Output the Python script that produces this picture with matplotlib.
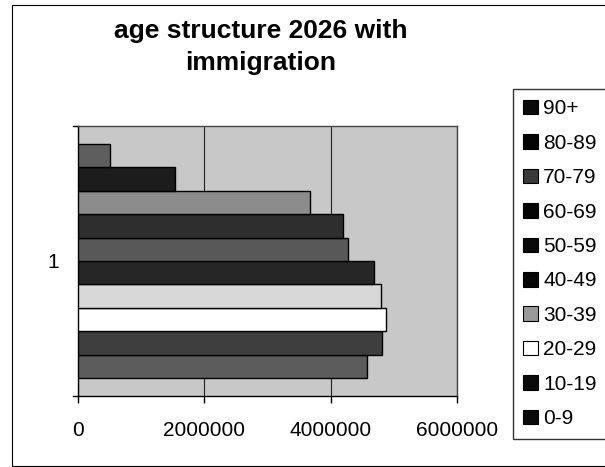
import matplotlib
matplotlib.use("Agg")
import matplotlib.pyplot as plt
from matplotlib.patches import Patch, Rectangle
import numpy as np

plt.rcParams['font.family'] = ['Liberation Sans', 'DejaVu Sans']

age_groups = ["0-9", "10-19", "20-29", "30-39", "40-49", "50-59", "60-69", "70-79", "80-89", "90+"]
population = [4570000, 4820000, 4880000, 4800000, 4690000, 4270000, 4190000, 3680000, 1530000, 500000]
category = "1"
x_ticks = [0, 2000000, 4000000, 6000000]
x_tick_labels = ["0", "2000000", "4000000", "6000000"]
title_lines = ["age structure 2026 with", "immigration"]

bar_colors = ["#5c5c5c", "#3e3e3e", "#ffffff", "#d8d8d8", "#262626",
              "#585858", "#2e2e2e", "#8c8c8c", "#1c1c1c", "#5e5e5e"]
legend_colors = ["#0a0a0a", "#0a0a0a", "#ffffff", "#9a9a9a", "#050505",
                 "#0a0a0a", "#050505", "#3a3a3a", "#050505", "#0a0a0a"]

W, H = 605, 467
fig = plt.figure(figsize=(W / 100, H / 100), dpi=100)
fig.patch.set_facecolor("white")

ax = fig.add_axes([78 / W, 1 - 396 / H, (457 - 78) / W, (396 - 126) / H])
ax.set_facecolor("#c8c8c8")

n = len(age_groups)
h = 1.0 / (n + 1.5)
pos = 1 + (np.arange(n) - (n - 1) / 2) * h
ax.barh(pos, population, height=h, color=bar_colors, edgecolor="black", linewidth=1.0, zorder=3)

ax.set_xlim(0, 6000000)
ax.set_ylim(0.5, 1.5)
ax.set_xticks(x_ticks)
ax.set_xticklabels(x_tick_labels, fontsize=15)
ax.set_yticks([1])
ax.set_yticklabels([category], fontsize=15)
ax.tick_params(axis='y', length=0, pad=13.5)
ax.tick_params(axis='x', length=5, width=1, direction='out', pad=13, color='black')
ax.xaxis.grid(True, color="#222222", linewidth=0.8, zorder=1)
for s in ax.spines.values():
    s.set_color("#444444")
    s.set_linewidth(1.0)
ax.spines['left'].set_color("black")
ax.spines['bottom'].set_color("black")

# y tick marks at top and bottom of the value axis
ax.plot([-0.014, 0], [0.0, 0.0], transform=ax.transAxes, color='black', lw=1, clip_on=False)
ax.plot([-0.014, 0], [1.0, 1.0], transform=ax.transAxes, color='black', lw=1, clip_on=False)

fig.text(260.5 / W, 1 - 31 / H, title_lines[0], ha='center', va='center', fontsize=19, fontweight='bold')
fig.text(260.5 / W, 1 - 63 / H, title_lines[1], ha='center', va='center', fontsize=19, fontweight='bold')

handles = [Patch(facecolor=legend_colors[i], edgecolor='black', linewidth=0.8) for i in range(n)][::-1]
labels = age_groups[::-1]
leg = fig.legend(handles, labels, loc='upper left', bbox_to_anchor=(513 / W, 1 - 89 / H),
                 fontsize=15, frameon=True, fancybox=False, edgecolor='black',
                 handlelength=0.7, handleheight=0.7, handletextpad=0.25,
                 labelspacing=0.74, borderpad=0.5, borderaxespad=0)
leg.get_frame().set_linewidth(1.0)

fig.patches.append(Rectangle((12 / W, 0.003), 1.0, 1 - 5 / H - 0.003, transform=fig.transFigure,
                             fill=False, edgecolor='black', linewidth=0.8))

fig.savefig("out.png", dpi=100)
